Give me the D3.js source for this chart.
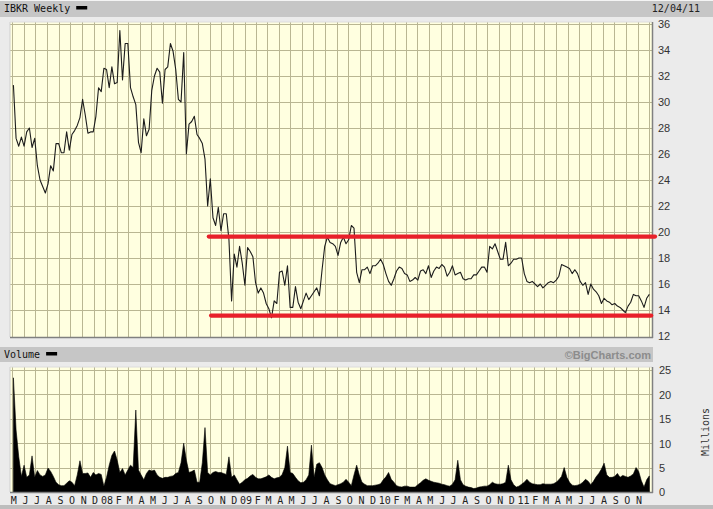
<!DOCTYPE html>
<html><head><meta charset="utf-8">
<script src="https://cdn.jsdelivr.net/npm/d3@7"></script>
<style>html,body{margin:0;padding:0;background:#ebebeb;} svg{display:block}</style>
</head><body><svg id="c" width="713" height="509"></svg>
<script>
// ---------------- data ----------------
const symbolTitle = "IBKR Weekly";
const asOfDate = "12/04/11";
const volumeTitle = "Volume";
const creditText = "\u00A9BigCharts.com";
const volumeUnit = "Millions";
const firstWeek = "2007-05-04";       // first weekly close
const firstMonth = "2007-05-01";

// weekly closing prices (USD)
const prices = [
 31.3,27.2,26.6,27.3,26.6,27.7,28.0,26.5,27.2,25.1,24.0,23.5,23.0,23.7,25.1,24.7,26.8,26.8,26.1,26.1,
 27.7,26.3,27.5,27.8,28.2,28.8,30.2,29.0,27.6,27.7,27.7,28.9,31.1,30.8,32.6,32.5,31.1,32.7,31.4,31.5,
 35.5,31.7,34.5,34.5,31.1,30.4,29.8,26.9,26.1,28.7,27.4,27.9,30.9,32.0,32.6,32.3,29.9,32.5,32.7,34.5,
 33.9,32.5,30.2,30.0,33.8,26.0,28.3,28.5,28.9,27.5,27.2,26.8,25.6,22.0,24.1,21.1,20.5,21.9,20.1,21.4,
 21.4,19.4,14.7,18.3,17.3,18.9,17.6,15.9,18.8,18.5,18.1,16.1,15.3,15.7,15.3,14.5,14.1,13.4,14.7,14.5,
 16.9,17.0,15.9,17.4,14.2,14.2,15.8,14.6,14.1,14.7,15.3,14.8,15.1,15.4,15.7,15.1,17.1,18.9,19.6,19.2,
 19.1,18.9,18.2,19.2,19.6,19.1,19.4,20.5,20.3,16.9,16.1,17.1,17.1,17.3,16.8,17.4,17.4,17.6,17.9,17.5,
 16.8,16.2,15.9,16.4,17.0,17.3,17.2,16.8,16.7,16.2,16.3,16.5,16.3,17.0,17.1,16.8,17.4,16.5,17.0,17.3,
 17.2,17.5,17.3,16.6,16.9,17.4,16.7,16.8,16.9,16.4,16.3,16.4,16.4,16.7,16.7,17.0,17.3,17.3,16.9,18.9,
 18.7,19.1,18.5,17.9,17.9,19.2,17.4,17.6,17.9,17.9,18.0,18.0,16.8,16.2,16.1,16.2,16.0,15.8,16.0,15.7,
 15.9,16.1,16.2,16.1,16.3,16.6,17.5,17.4,17.3,17.2,16.8,17.1,16.8,16.2,15.9,16.1,15.2,16.0,15.6,15.4,
 15.1,14.5,14.9,14.7,14.6,14.4,14.5,14.3,14.2,14.0,13.8,14.3,14.6,15.2,15.1,15.1,14.7,14.2,14.9,15.2
];

// weekly volume (millions of shares)
const volumes = [
 23.4,12.7,7.2,3.2,5.5,3.0,3.5,7.4,3.0,4.4,3.5,3.2,3.5,4.9,4.2,3.2,2.0,1.5,1.3,1.3,
 1.8,2.3,2.0,1.3,3.5,6.4,3.8,3.8,3.9,3.0,4.0,3.5,3.8,3.6,1.2,3.0,5.5,7.5,8.4,6.5,
 4.0,4.8,3.5,4.5,5.5,5.0,16.8,4.5,3.5,2.5,3.8,4.5,4.3,4.5,3.5,3.0,2.8,3.0,3.0,3.2,
 3.3,3.8,4.0,6.0,10.0,6.5,4.0,4.2,4.5,2.0,2.0,6.0,13.2,4.0,3.5,4.0,4.2,4.0,4.0,3.8,
 3.6,7.2,3.0,3.5,2.5,1.6,2.0,2.5,2.8,3.3,3.6,3.0,2.7,2.7,2.9,3.1,3.5,3.0,2.7,2.9,
 3.0,3.6,5.0,9.4,4.0,3.8,3.0,2.3,1.9,2.0,2.5,3.5,9.6,3.0,5.7,6.0,5.0,3.5,2.5,1.7,
 1.5,1.3,1.5,1.7,2.0,2.6,2.0,1.3,3.5,5.5,3.5,2.0,1.6,1.3,1.3,1.3,1.4,1.5,1.7,2.5,
 3.1,4.0,2.6,2.0,1.3,1.1,1.0,1.2,1.2,1.0,1.0,1.0,1.5,1.9,2.4,2.7,2.4,2.2,2.0,1.9,
 1.8,1.6,1.5,1.3,1.2,1.6,2.5,6.5,2.5,1.5,1.2,1.0,0.9,0.7,0.8,1.0,1.1,1.2,1.2,1.5,
 2.0,1.7,1.6,1.6,1.7,2.0,5.5,2.5,1.5,1.0,1.2,1.6,2.0,2.6,2.0,1.7,1.6,1.5,1.5,1.7,
 1.6,1.6,1.6,1.7,2.0,2.5,3.2,5.0,3.0,2.0,1.4,1.3,1.4,1.6,2.0,2.6,2.2,1.5,2.2,3.1,
 3.8,4.7,5.9,3.5,3.0,3.0,3.2,3.8,3.0,3.4,3.2,3.0,3.3,3.7,5.0,4.2,2.3,1.0,2.5,3.3
];

const priceTicks = [12,14,16,18,20,22,24,26,28,30,32,34,36];
const volumeTicks = [0,5,10,15,20,25];
const monthLabels = [
 "M","J","J","A","S","O","N","D",
 "08","F","M","A","M","J","J","A","S","O","N","D",
 "09","F","M","A","M","J","J","A","S","O","N","D",
 "10","F","M","A","M","J","J","A","S","O","N","D",
 "11","F","M","A","M","J","J","A","S","O","N",""
];
// hand-drawn red channel lines (start date, end date, price level)
const channelStarts = ["2008-09-29","2008-10-05"];
const channelEnds   = ["2011-12-17","2011-12-07"];
const channelLevels = [19.65,13.57];

// ---------------- drawing ----------------
const svg = d3.select("#c");
const parse = d3.utcParse("%Y-%m-%d");
const PL = 10, PR = 652;
const x = d3.scaleUtc().domain([parse("2007-04-25"), parse("2011-12-09")]).range([PL, PR]);
const yP = d3.scaleLinear().domain([12, 36]).range([336, 24]);
const yV = d3.scaleLinear().domain([0, 25]).range([492, 370]);

const weeks = prices.map((_, i) => d3.utcDay.offset(parse(firstWeek), 7 * i));
const months = d3.utcMonth.range(parse(firstMonth), parse("2011-12-02"));

const BG = "#ebebeb", BAND = "#c6c6c6", PLOT = "#ffffe0", GRID = "#b9b692";
const mono = "'DejaVu Sans Mono', monospace";
const sans = "'Liberation Sans', Arial, sans-serif";

svg.append("rect").attr("width", 713).attr("height", 509).attr("fill", BG);

// header bands
svg.append("rect").attr("x", 0).attr("y", 0).attr("width", 713).attr("height", 1).attr("fill", "#f4f4f4");
svg.append("rect").attr("x", 0).attr("y", 1).attr("width", 713).attr("height", 16).attr("fill", BAND);
svg.append("rect").attr("x", 0).attr("y", 347).attr("width", 653).attr("height", 15).attr("fill", BAND);
svg.append("rect").attr("x", 0).attr("y", 505).attr("width", 713).attr("height", 4).attr("fill", "#bdbdbd");

function panel(top, bottom) {
  const g = svg.append("g");
  g.append("rect").attr("x", PL).attr("y", top).attr("width", PR - PL).attr("height", bottom - top).attr("fill", PLOT);
  g.selectAll("line.v").data(months).join("line")
    .attr("x1", d => Math.round(x(d)) + 0.5).attr("x2", d => Math.round(x(d)) + 0.5)
    .attr("y1", top).attr("y2", bottom).attr("stroke", GRID).attr("stroke-width", 1);
  return g;
}
function frame(top, bottom) {
  svg.append("line").attr("x1", PL).attr("x2", PL).attr("y1", top).attr("y2", bottom).attr("stroke", "#cfcfcf");
  svg.append("line").attr("x1", PL).attr("x2", PR).attr("y1", top).attr("y2", top).attr("stroke", "#dcdcdc");
  svg.append("line").attr("x1", PR + 0.5).attr("x2", PR + 0.5).attr("y1", top).attr("y2", bottom + 1).attr("stroke", "#808080").attr("stroke-width", 1.5);
  svg.append("line").attr("x1", PL).attr("x2", PR + 1).attr("y1", bottom + 0.5).attr("y2", bottom + 0.5).attr("stroke", "#808080").attr("stroke-width", 1.5);
}

// ---- price panel ----
const gp = panel(22, 337);
gp.selectAll("line.h").data(priceTicks.slice(1)).join("line")
  .attr("x1", PL).attr("x2", PR).attr("y1", d => Math.round(yP(d)) + 0.5).attr("y2", d => Math.round(yP(d)) + 0.5)
  .attr("stroke", GRID);
gp.append("path").datum(prices)
  .attr("fill", "none").attr("stroke", "#1c1c1c").attr("stroke-width", 1.1).attr("stroke-linejoin", "round")
  .attr("d", d3.line().x((d, i) => x(weeks[i])).y(d => yP(d)));
frame(22, 337);

// channel lines
svg.selectAll("line.ch").data(channelLevels).join("line")
  .attr("x1", (d, i) => x(parse(channelStarts[i]))).attr("x2", (d, i) => x(parse(channelEnds[i])))
  .attr("y1", d => yP(d)).attr("y2", d => yP(d))
  .attr("stroke", "#e8202a").attr("stroke-width", 4.2).attr("stroke-linecap", "round");

// price axis
const ap = svg.append("g").attr("transform", `translate(${PR + 6},0)`)
  .call(d3.axisRight(yP).tickValues(priceTicks).tickSize(0).tickPadding(0));
ap.select(".domain").remove();
ap.selectAll("text").attr("font-family", sans).attr("font-size", 11).attr("fill", "#333").attr("dy", "0.35em");

// ---- volume panel ----
const gv = panel(367, 492);
gv.selectAll("line.h").data(volumeTicks.slice(1)).join("line")
  .attr("x1", PL).attr("x2", PR).attr("y1", d => Math.round(yV(d)) + 0.5).attr("y2", d => Math.round(yV(d)) + 0.5)
  .attr("stroke", GRID);
gv.append("path").datum(volumes)
  .attr("fill", "#000").attr("stroke", "#000").attr("stroke-width", 0.6)
  .attr("d", d3.area().x((d, i) => x(weeks[i])).y0(yV(0)).y1(d => yV(d)));
frame(367, 492);

const av = svg.append("g").attr("transform", `translate(${PR + 7},0)`)
  .call(d3.axisRight(yV).tickValues(volumeTicks).tickSize(0).tickPadding(0));
av.select(".domain").remove();
av.selectAll("text").attr("font-family", sans).attr("font-size", 11).attr("fill", "#333").attr("dy", "0.35em");

// month labels
svg.append("g").selectAll("text").data(months).join("text")
  .attr("x", d => x(d) + 1.5).attr("y", 504)
  .attr("text-anchor", "middle").attr("font-family", mono).attr("font-size", 10).attr("fill", "#222")
  .text((d, i) => monthLabels[i] || "");

// titles
function legendTitle(txt, y) {
  svg.append("text").attr("x", 4).attr("y", y).attr("font-family", mono).attr("font-size", 10)
    .attr("fill", "#111").text(txt);
  const w = txt.length * 6.02;
  svg.append("rect").attr("x", 4 + w + 6).attr("y", y - 6).attr("width", 11).attr("height", 3.5).attr("fill", "#000");
}
legendTitle(symbolTitle, 12);
legendTitle(volumeTitle, 358);

svg.append("text").attr("x", 700).attr("y", 12).attr("text-anchor", "end")
  .attr("font-family", mono).attr("font-size", 10).attr("fill", "#222").text(asOfDate);
svg.append("text").attr("x", 651).attr("y", 358.5).attr("text-anchor", "end")
  .attr("font-family", sans).attr("font-weight", "bold").attr("font-size", 11).attr("fill", "#8c8c8c").text(creditText);
svg.append("text").attr("transform", "translate(709,432) rotate(-90)").attr("text-anchor", "middle")
  .attr("font-family", mono).attr("font-size", 10).attr("fill", "#333").text(volumeUnit);
</script></body></html>
